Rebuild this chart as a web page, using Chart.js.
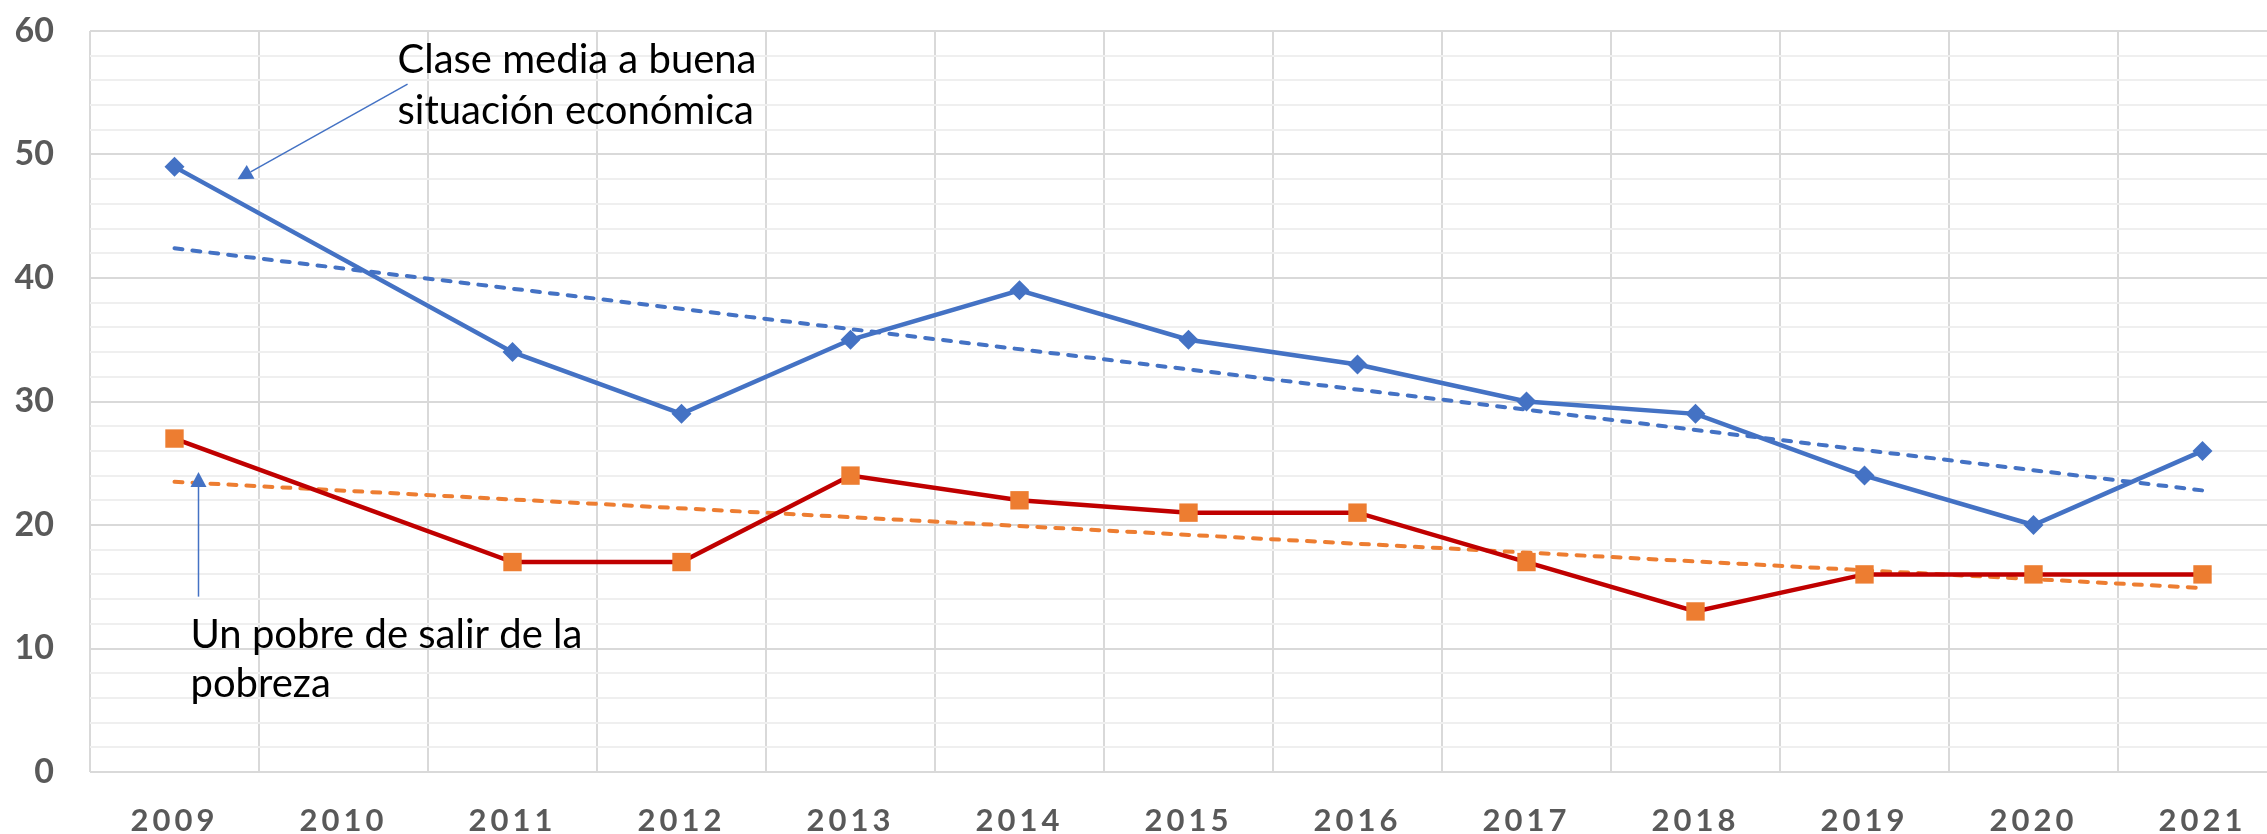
<!DOCTYPE html>
<html>
<head>
<meta charset="utf-8">
<style>
html,body{margin:0;padding:0;background:#ffffff;overflow:hidden;width:2267px;height:834px}
#wrap{position:absolute;left:0;top:0;width:2287px;height:834px}
</style>
<script src="https://cdn.jsdelivr.net/npm/chart.js@4.4.1/dist/chart.umd.min.js"></script>
</head>
<body>
<div id="wrap"><canvas id="c" width="2287" height="834"></canvas></div>
<script>
// ---- data ----
const years = ['2009','2010','2011','2012','2013','2014','2015','2016','2017','2018','2019','2020','2021'];
const claseMedia = [49, null, 34, 29, 35, 39, 35, 33, 30, 29, 24, 20, 26];
const pobreSalir = [27, null, 17, 17, 24, 22, 21, 21, 17, 13, 16, 16, 16];
const tendClaseMedia = [42.4, null, null, null, null, null, null, null, null, null, null, null, 22.8];
const tendPobreSalir = [23.5, null, null, null, null, null, null, null, null, null, null, null, 14.9];
const yTickLabels = [0, 10, 20, 30, 40, 50, 60];
const noteClaseMedia = ['Clase media a buena', 'situación económica'];
const notePobre = ['Un pobre de salir de la', 'pobreza'];

// ---- annotation placement (in data coordinates: category index, value) ----
const arrowSpecs = [
  { from: [1.379, 55.7], to: [0.373, 48.0] },
  { from: [0.142, 14.2], to: [0.142, 24.3] }
];
const textSpecs = [
  { lines: noteClaseMedia, at: [1.3195, 56.6], lh: 51 },
  { lines: notePobre, at: [0.0947, 10.04], lh: 49 }
];

const LABEL_GRAY = '#595959';

const notesPlugin = {
  id: 'notes',
  beforeDraw(chart) {
    const xs = chart.scales.x;
    if (xs && !xs._spacedPatch) {
      const orig = xs.drawLabels;
      xs.drawLabels = function (area) {
        const c = this.ctx;
        c.save();
        c.letterSpacing = '4px';
        orig.call(this, area);
        c.restore();
      };
      xs._spacedPatch = true;
    }
  },
  afterDraw(chart) {
    const { ctx } = chart;
    const x = chart.scales.x, y = chart.scales.y;
    ctx.save();
    for (const a of arrowSpecs) {
      const x0 = x.getPixelForValue(a.from[0]), y0 = y.getPixelForValue(a.from[1]);
      const x1 = x.getPixelForValue(a.to[0]), y1 = y.getPixelForValue(a.to[1]);
      const ang = Math.atan2(y1 - y0, x1 - x0);
      const L = 15, H = 8;
      const bx = x1 - L * Math.cos(ang), by = y1 - L * Math.sin(ang);
      ctx.strokeStyle = '#4472C4';
      ctx.lineWidth = 1.5;
      ctx.beginPath();
      ctx.moveTo(x0, y0);
      ctx.lineTo(bx, by);
      ctx.stroke();
      ctx.fillStyle = '#4472C4';
      ctx.beginPath();
      ctx.moveTo(x1, y1);
      ctx.lineTo(bx + H * Math.sin(ang), by - H * Math.cos(ang));
      ctx.lineTo(bx - H * Math.sin(ang), by + H * Math.cos(ang));
      ctx.closePath();
      ctx.fill();
    }
    ctx.fillStyle = '#000000';
    ctx.font = '40px Lato';
    ctx.textAlign = 'left';
    ctx.textBaseline = 'alphabetic';
    for (const t of textSpecs) {
      const px = x.getPixelForValue(t.at[0]), py = y.getPixelForValue(t.at[1]);
      t.lines.forEach((s, i) => ctx.fillText(s, px, py + i * t.lh));
    }
    ctx.restore();
  }
};

const thinSpan = (thin, normal) => (c) => (c.p0DataIndex === 0 ? thin : normal);

function build() {
  new Chart(document.getElementById('c'), {
    type: 'line',
    data: {
      labels: years,
      datasets: [
        {
          label: 'Clase media a buena situación económica',
          data: claseMedia,
          borderColor: '#4472C4',
          backgroundColor: '#4472C4',
          borderWidth: 4.5,
          segment: { borderWidth: thinSpan(3.5, 4.5) },
          pointStyle: 'rectRot',
          pointRadius: 10,
          pointBorderWidth: 0,
          pointBackgroundColor: '#4472C4',
          spanGaps: true,
          tension: 0,
          order: 1
        },
        {
          label: 'Un pobre de salir de la pobreza',
          data: pobreSalir,
          borderColor: '#C00000',
          backgroundColor: '#ED7D31',
          borderWidth: 4.5,
          segment: { borderWidth: thinSpan(3, 4.5) },
          pointStyle: 'rect',
          pointRadius: 13,
          pointBorderWidth: 0,
          pointBackgroundColor: '#ED7D31',
          spanGaps: true,
          tension: 0,
          order: 2
        },
        {
          label: 'Tendencia clase media',
          data: tendClaseMedia,
          borderColor: '#4472C4',
          borderWidth: 4,
          borderDash: [8, 10],
          borderCapStyle: 'round',
          pointRadius: 0,
          spanGaps: true,
          order: 3
        },
        {
          label: 'Tendencia pobre',
          data: tendPobreSalir,
          borderColor: '#ED7D31',
          borderWidth: 4,
          borderDash: [8, 10],
          borderCapStyle: 'round',
          pointRadius: 0,
          spanGaps: true,
          order: 4
        }
      ]
    },
    options: {
      responsive: false,
      animation: false,
      events: [],
      layout: { autoPadding: false, padding: { top: 31, left: 0, right: 0, bottom: 0 } },
      plugins: { legend: { display: false }, tooltip: { enabled: false }, title: { display: false } },
      scales: {
        x: {
          type: 'category',
          offset: true,
          grid: { offset: true, color: '#D9D9D9', lineWidth: 2, drawTicks: false },
          border: { display: false },
          ticks: {
            color: LABEL_GRAY,
            font: { family: 'Lato', weight: 'bold', size: 31 },
            padding: 30,
            maxRotation: 0,
            autoSkip: false
          },
          afterFit(s) { s.height = 62; s.paddingLeft = 0; s.paddingRight = 0; }
        },
        y: {
          min: 0,
          max: 60,
          grid: {
            color: (c) => (c.tick && yTickLabels.includes(c.tick.value)) ? '#D9D9D9' : '#EFEFEF',
            lineWidth: 2,
            drawTicks: false
          },
          border: { display: false },
          ticks: {
            stepSize: 2,
            autoSkip: false,
            color: LABEL_GRAY,
            font: { family: 'Lato', weight: 'bold', size: 34 },
            padding: 36,
            callback: (v) => yTickLabels.includes(v) ? String(v) : ''
          },
          afterFit(s) { s.width = 90; s.paddingTop = 0; s.paddingBottom = 0; }
        }
      }
    },
    plugins: [notesPlugin]
  });
}

const fontLoads = [
  '40px Lato', 'bold 34px Lato', 'bold 31px Lato'
].map(f => document.fonts.load(f).catch(() => null));
Promise.all(fontLoads).then(build, build);
</script>
</body>
</html>
